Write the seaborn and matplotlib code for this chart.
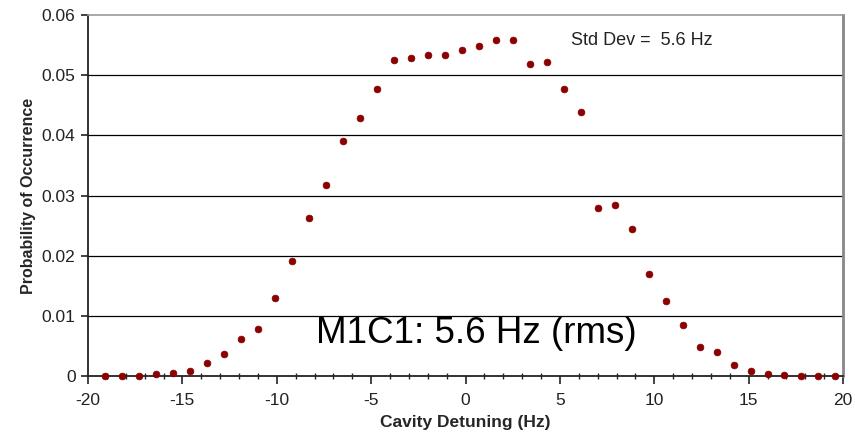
import matplotlib
matplotlib.use("Agg")
import matplotlib.pyplot as plt
import seaborn as sns
import pandas as pd
from matplotlib.ticker import MultipleLocator

detuning_hz = [-19.1, -18.2, -17.3, -16.4, -15.5, -14.6, -13.7, -12.8, -11.9, -11.0,
               -10.1, -9.2, -8.3, -7.4, -6.5, -5.6, -4.7, -3.8, -2.9, -2.0,
               -1.1, -0.2, 0.7, 1.6, 2.5, 3.4, 4.3, 5.2, 6.1, 7.0,
               7.9, 8.8, 9.7, 10.6, 11.5, 12.4, 13.3, 14.2, 15.1, 16.0,
               16.9, 17.8, 18.7, 19.6]
probability = [0.0000, 0.0000, 0.0000, 0.0003, 0.0005, 0.0008, 0.0022, 0.0036, 0.0061, 0.0078,
               0.0130, 0.0191, 0.0263, 0.0318, 0.0390, 0.0429, 0.0477, 0.0525, 0.0528, 0.0534,
               0.0534, 0.0541, 0.0549, 0.0558, 0.0558, 0.0519, 0.0522, 0.0477, 0.0438, 0.0280,
               0.0285, 0.0244, 0.0170, 0.0125, 0.0085, 0.0048, 0.0040, 0.0019, 0.0009, 0.0003,
               0.0002, 0.0000, 0.0000, 0.0000]
x_ticks = [-20, -15, -10, -5, 0, 5, 10, 15, 20]
y_ticks = [0, 0.01, 0.02, 0.03, 0.04, 0.05, 0.06]
y_tick_labels = ["0", "0.01", "0.02", "0.03", "0.04", "0.05", "0.06"]
x_label = "Cavity Detuning (Hz)"
y_label = "Probability of Occurrence"
std_text = "Std Dev =  5.6 Hz"
main_text = "M1C1: 5.6 Hz (rms)"

sns.set_style("white")
plt.rcParams["font.family"] = ["Liberation Sans", "DejaVu Sans"]

df = pd.DataFrame({"x": detuning_hz, "y": probability})

fig = plt.figure(figsize=(8.55, 4.36), dpi=100)
ax = fig.add_axes([88 / 855, 1 - 376 / 436, (843 - 88) / 855, (376 - 15) / 436])

for yv in y_ticks[1:-1]:
    ax.axhline(yv, color="black", lw=0.9, zorder=1)

sns.scatterplot(data=df, x="x", y="y", ax=ax, color="#8b0000", marker="o",
                s=24, edgecolor="#8b0000", linewidth=0.5, zorder=3, clip_on=False)

ax.set_xlim(-20, 20)
ax.set_ylim(0, 0.06)
ax.set_xticks(x_ticks)
ax.set_xticklabels([str(v) for v in x_ticks])
ax.set_yticks(y_ticks)
ax.set_yticklabels(y_tick_labels)
ax.xaxis.set_minor_locator(MultipleLocator(1))

ax.tick_params(axis="both", which="major", labelsize=12.5, colors="#222222")
ax.tick_params(axis="x", which="major", direction="out", length=6, width=1.2, bottom=True, pad=6)
ax.tick_params(axis="x", which="minor", direction="inout", length=5, width=1, bottom=True)
ax.tick_params(axis="y", which="major", direction="out", length=5, width=1.2, left=True, pad=4)

for side in ["left", "bottom"]:
    ax.spines[side].set_color("#222222")
    ax.spines[side].set_linewidth(1.3)
ax.spines["top"].set_color("#999999")
ax.spines["top"].set_linewidth(1.2)
ax.spines["right"].set_color("#888888")
ax.spines["right"].set_linewidth(2)

ax.set_xlabel(x_label, fontsize=12.5, fontweight="bold", labelpad=5)
ax.set_ylabel(y_label, fontsize=11.5, fontweight="bold", labelpad=4)

ax.text(5.6, 0.0558, std_text, fontsize=13, ha="left", va="center", color="#222222")
ax.text(0.55, 0.0071, main_text, fontsize=26.5, ha="center", va="center", color="black")

fig.savefig("out.png", dpi=100, facecolor="white")
